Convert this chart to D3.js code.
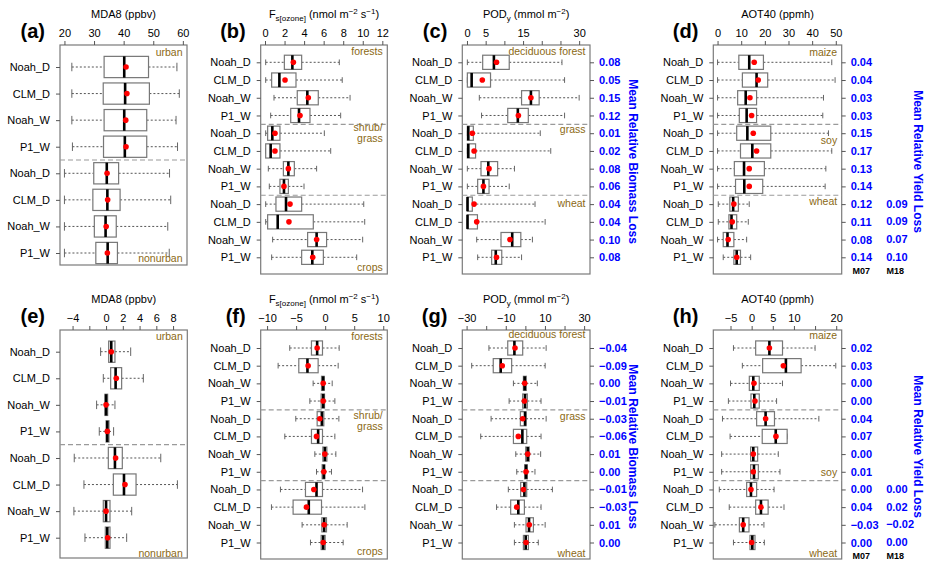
<!DOCTYPE html>
<html>
<head>
<meta charset="utf-8">
<script src="https://cdn.jsdelivr.net/npm/d3@7"></script>
<style>
  html, body { margin: 0; padding: 0; background: #fff; }
  svg { display: block; font-family: "Liberation Sans", Arial, Helvetica, sans-serif; }
</style>
</head>
<body>
<svg id="chart" width="926" height="563" viewBox="0 0 926 563"></svg>
<script>
// row labels (repeated per land-type group)
const rowLabels = ["Noah_D", "CLM_D", "Noah_W", "P1_W"];

// box stats per row: [whisker low, q1, median, q3, whisker high, mean]
const mda8Abs = [
  [22.5, 33.4, 40.2, 48.4, 58.0, 40.8], [22.5, 33.1, 40.5, 48.7, 58.8, 41.1],
  [22.5, 33.4, 40.2, 47.8, 57.7, 40.7], [22.7, 33.2, 40.4, 47.8, 58.2, 40.8],
  [20.0, 29.9, 34.3, 38.3, 55.5, 34.4], [20.0, 29.6, 34.5, 38.8, 55.9, 34.6],
  [20.0, 30.1, 33.9, 37.5, 54.9, 34.1], [20.0, 30.6, 34.6, 37.9, 55.4, 34.5]
];
const fluxAbs = [
  [0.07, 1.98, 2.8, 3.75, 7.6, 2.9], [0.07, 0.68, 1.47, 3.17, 7.9, 2.05],
  [0.92, 3.3, 4.33, 5.45, 8.7, 4.43], [0.58, 2.63, 3.48, 4.6, 7.74, 3.58],
  [0.07, 0.27, 0.75, 1.53, 6.07, 1.02], [0.07, 0.07, 0.58, 1.53, 6.72, 1.02],
  [0.34, 1.88, 2.39, 3.0, 5.28, 2.39], [0.44, 1.53, 1.94, 2.39, 3.99, 1.94],
  [0.07, 1.12, 2.15, 3.75, 10.1, 2.56], [0.07, 0.27, 1.3, 4.94, 10.2, 2.45],
  [0.78, 4.36, 5.28, 6.3, 9.99, 5.28], [0.68, 3.75, 4.84, 5.97, 9.38, 4.88]
];
const podAbs = [
  [0.1, 4.2, 7.2, 11.3, 25.4, 7.9], [0.1, 0.1, 1.25, 6.3, 26.1, 4.1],
  [3.3, 14.6, 17.1, 19.3, 30.0, 17.1], [3.9, 10.9, 13.6, 16.4, 26.1, 13.75],
  [0.1, 0.1, 0.36, 1.7, 19.6, 1.43], [0.1, 0.1, 0.36, 2.3, 22.4, 1.9],
  [0.1, 3.75, 5.7, 8.2, 12.7, 5.9], [0.1, 2.86, 4.4, 5.9, 11.3, 4.4],
  [0.1, 0.1, 0.15, 1.43, 18.2, 1.9], [0.1, 0.1, 0.15, 2.8, 20.9, 2.6],
  [2.6, 9.1, 12.1, 14.4, 17.5, 11.5], [2.86, 6.6, 7.7, 9.3, 14.6, 7.9]
];
const aotAbs = [
  [0, 9.0, 13.4, 19.4, 48.3, 15.5], [0, 10.5, 16.5, 21.2, 49.7, 17.2],
  [0, 8.5, 11.9, 16.5, 44.8, 13.7], [0, 9.2, 12.3, 16.5, 44.5, 14.4],
  [0, 8.1, 12.6, 22.5, 46.9, 15.1], [0, 9.7, 14.7, 22.5, 48.3, 16.5],
  [0, 7.1, 11.2, 19.8, 45.8, 13.4], [0, 7.6, 11.3, 19.1, 45.5, 13.4],
  [0.3, 5.2, 6.6, 8.8, 13.4, 6.9], [0.3, 4.8, 5.9, 8.1, 13.0, 6.2],
  [0, 2.4, 4.2, 6.9, 12.3, 4.5], [2.4, 6.9, 8.1, 9.7, 14.0, 8.1]
];
const mda8Diff = [
  [-0.65, 0.31, 0.62, 1.06, 2.94, 0.62], [-0.33, 0.55, 1.14, 1.86, 4.45, 1.22],
  [-1.13, -0.13, 0.0, 0.19, 1.06, 0.0], [-0.81, 0.0, 0.15, 0.35, 0.9, 0.15],
  [-3.8, 0.27, 1.06, 1.94, 6.53, 1.14], [-2.64, 0.87, 2.14, 3.58, 8.52, 2.26],
  [-3.84, -0.33, 0.0, 0.47, 3.06, 0.0], [-2.52, -0.09, 0.15, 0.47, 2.46, 0.19]
];
const fluxDiff = [
  [-6.1, -2.36, -1.38, -0.46, 2.41, -1.38], [-8.1, -4.54, -3.05, -1.21, 2.24, -2.93],
  [-2.07, -0.63, -0.34, -0.17, 1.21, -0.34], [-2.64, -0.69, -0.34, -0.11, 1.67, -0.34],
  [-5.06, -1.38, -0.57, -0.23, 2.36, -0.92], [-6.95, -2.36, -1.21, -0.46, 1.67, -1.49],
  [-1.78, -0.4, -0.06, 0.29, 1.84, -0.06], [-1.49, -0.52, -0.23, -0.06, 1.09, -0.23],
  [-7.7, -3.39, -1.49, -0.46, 6.44, -1.95], [-9.25, -5.52, -2.82, -0.63, 6.84, -3.22],
  [-3.97, -0.57, -0.17, 0.23, 3.79, -0.17], [-2.53, -0.69, -0.34, 0.0, 3.1, -0.34]
];
const podDiff = [
  [-18.6, -9.0, -5.6, -1.36, 10.6, -5.3], [-27.4, -16.4, -12.6, -7.0, 10.1, -11.8],
  [-6.1, -1.0, -0.34, 0.5, 6.1, -0.34], [-8.3, -1.36, -0.17, 1.0, 8.0, -0.5],
  [-17.5, -2.56, -0.17, 0.34, 10.6, -1.36], [-22.8, -6.1, -1.53, 0.68, 8.0, -3.6],
  [-4.9, 0.17, 1.19, 2.0, 7.8, 1.19], [-4.4, -0.34, 0.34, 1.0, 4.9, 0.34],
  [-8.7, -2.4, -0.5, 0.68, 13.8, -1.0], [-14.7, -7.5, -3.6, -0.5, 8.0, -4.4],
  [-5.6, 0.34, 1.87, 4.1, 10.1, 2.0], [-5.6, -1.0, 0.17, 1.53, 6.6, 0.34]
];
const aotDiff = [
  [-4.3, 0.95, 4.2, 7.3, 15.0, 4.2], [-2.2, 2.6, 8.1, 11.7, 19.9, 7.5],
  [-5.0, -0.55, 0.39, 1.8, 7.3, 0.55], [-5.5, -0.16, 0.63, 1.8, 5.9, 0.79],
  [-6.9, 1.18, 3.3, 5.4, 15.9, 3.3], [-5.1, 2.5, 5.7, 8.4, 8.4, 5.75],
  [-7.1, -0.24, 0.39, 1.42, 6.3, 0.39], [-7.1, -0.24, 0.55, 1.58, 6.7, 0.39],
  [-7.65, -1.18, -0.16, 1.18, 5.3, -0.16], [-5.3, 0.95, 2.2, 3.9, 7.65, 2.2],
  [-8.7, -2.9, -2.0, -0.63, 2.9, -2.0], [-4.3, -0.39, 0.16, 0.79, 3.0, 0.0]
];

// mean relative biomass / yield loss (right-hand blue columns)
const biomassLossAbs = [0.08, 0.05, 0.15, 0.12, 0.01, 0.02, 0.08, 0.06, 0.04, 0.04, 0.10, 0.08];
const yieldLossM07Abs = [0.04, 0.04, 0.03, 0.03, 0.15, 0.17, 0.13, 0.14, 0.12, 0.11, 0.08, 0.14];
const yieldLossM18Abs = [0.09, 0.09, 0.07, 0.10];
const biomassLossDiff = [-0.04, -0.09, 0.00, -0.01, -0.03, -0.06, 0.01, 0.00, -0.01, -0.03, 0.01, 0.00];
const yieldLossM07Diff = [0.02, 0.03, 0.00, 0.00, 0.04, 0.07, 0.00, 0.01, 0.00, 0.04, -0.03, 0.00];
const yieldLossM18Diff = [0.00, 0.02, -0.02, 0.00];

// x tick values and which of them get a label
const mda8AbsTicks = [20, 30, 40, 50, 60];
const fluxAbsTicks = [0, 2, 4, 6, 8, 10, 12];
const podAbsTicks = [0, 5, 10, 15, 20, 25, 30], podAbsLabels = [0, 5, 15, 30];
const aotAbsTicks = [0, 10, 20, 30, 40, 50];
const mda8DiffTicks = [-4, -2, 0, 2, 4, 6, 8], mda8DiffLabels = [-4, 0, 2, 4, 6, 8];
const fluxDiffTicks = [-10, -5, 0, 5, 10];
const podDiffTicks = [-30, -20, -10, 0, 10, 20, 30], podDiffLabels = [-30, -10, 10, 30];
const aotDiffTicks = [-5, 0, 5, 10, 15, 20], aotDiffLabels = [-5, 0, 5, 10, 20];

const svg = d3.select("#chart");
const fmt2 = d3.format(".2f");
const minus = d => String(d).replace("-", "\u2212");
const catColor = "#8B6914";
const blue = "#0000ff";

const panels = [
  { tag: "(a)", stats: mda8Abs, title: "mda8", x0: 60, x1: 187, y0: 45, y1: 265, r0: 67, r1: 253,
    domain: [18.5, 61.4], ticks: mda8AbsTicks, labels: mda8AbsTicks,
    cats: [["urban", 56], ["nonurban", 262]] },
  { tag: "(b)", stats: fluxAbs, title: "flux", x0: 260.7, x1: 387.3, y0: 45, y1: 274, r0: 62.3, r1: 257.3,
    domain: [-0.44, 12.51], ticks: fluxAbsTicks, labels: fluxAbsTicks,
    cats: [["forests", 54.5], ["shrub/", 131], ["grass", 141.5], ["crops", 270.5]] },
  { tag: "(c)", stats: podAbs, title: "pod", x0: 462.3, x1: 590, y0: 45, y1: 274, r0: 62.3, r1: 257.3,
    domain: [-1.25, 32.9], ticks: podAbsTicks, labels: podAbsLabels,
    cats: [["deciduous forest", 54.5], ["grass", 133], ["wheat", 207]],
    right: biomassLossAbs, rightTitle: "Mean Relative Biomass Loss" },
  { tag: "(d)", stats: aotAbs, title: "aot", x0: 713.3, x1: 841.7, y0: 45, y1: 274, r0: 62.3, r1: 257.3,
    domain: [-1.8, 52.5], ticks: aotAbsTicks, labels: aotAbsTicks,
    cats: [["maize", 55.5], ["soy", 144], ["wheat", 205]],
    right: yieldLossM07Abs, right2: yieldLossM18Abs, rightTitle: "Mean Relative Yield Loss" },
  { tag: "(e)", stats: mda8Diff, title: "mda8", x0: 60, x1: 187.3, y0: 330, y1: 558, r0: 351.7, r1: 537.7,
    domain: [-5.5, 9.7], ticks: mda8DiffTicks, labels: mda8DiffLabels,
    cats: [["urban", 339.5], ["nonurban", 556.5]] },
  { tag: "(f)", stats: fluxDiff, title: "flux", x0: 260.7, x1: 387.3, y0: 330, y1: 559, r0: 348, r1: 542.5,
    domain: [-11.1, 10.7], ticks: fluxDiffTicks, labels: fluxDiffTicks,
    cats: [["forests", 339.5], ["shrub/", 419], ["grass", 429.5], ["crops", 555]] },
  { tag: "(g)", stats: podDiff, title: "pod", x0: 462.3, x1: 590, y0: 330, y1: 559, r0: 348, r1: 542.5,
    domain: [-32.2, 33.0], ticks: podDiffTicks, labels: podDiffLabels,
    cats: [["deciduous forest", 338], ["grass", 420], ["wheat", 556.5]],
    right: biomassLossDiff, rightTitle: "Mean Relative Biomass Loss" },
  { tag: "(h)", stats: aotDiff, title: "aot", x0: 713.3, x1: 841.7, y0: 330, y1: 559, r0: 348, r1: 542.5,
    domain: [-9.07, 21.3], ticks: aotDiffTicks, labels: aotDiffLabels,
    cats: [["maize", 338.5], ["soy", 476], ["wheat", 556.5]],
    right: yieldLossM07Diff, right2: yieldLossM18Diff, rightTitle: "Mean Relative Yield Loss" }
];

function drawTitle(g, kind, cx, y) {
  const t = g.append("text").attr("x", cx).attr("y", y)
    .attr("text-anchor", "middle").style("font-size", "11px").attr("fill", "#000");
  if (kind === "mda8") t.text("MDA8 (ppbv)");
  if (kind === "aot") t.text("AOT40 (ppmh)");
  if (kind === "flux") {
    t.append("tspan").text("F");
    t.append("tspan").attr("dy", 3).style("font-size", "8px").text("s[ozone]");
    t.append("tspan").attr("dy", -3).text(" (nmol m");
    t.append("tspan").attr("dy", -4).style("font-size", "8px").text("\u22122");
    t.append("tspan").attr("dy", 4).text(" s");
    t.append("tspan").attr("dy", -4).style("font-size", "8px").text("\u22121");
    t.append("tspan").attr("dy", 4).text(")");
  }
  if (kind === "pod") {
    t.append("tspan").text("POD");
    t.append("tspan").attr("dy", 3).style("font-size", "8px").text("y");
    t.append("tspan").attr("dy", -3).text(" (mmol m");
    t.append("tspan").attr("dy", -4).style("font-size", "8px").text("\u22122");
    t.append("tspan").attr("dy", 4).text(")");
  }
}

panels.forEach(p => {
  const g = svg.append("g");
  const n = p.stats.length;
  const x = d3.scaleLinear().domain(p.domain).range([p.x0, p.x1]);
  const y = d3.scaleLinear().domain([0, n - 1]).range([p.r0, p.r1]);
  const step = (p.r1 - p.r0) / (n - 1);
  const bh = step * 0.8;
  const cap = bh * 0.4;

  // frame
  g.append("rect")
    .attr("x", p.x0).attr("y", p.y0)
    .attr("width", p.x1 - p.x0).attr("height", p.y1 - p.y0)
    .attr("fill", "#fff").attr("stroke", "#7a7a7a").attr("stroke-width", 1.2);

  // group separators
  const seps = n === 8 ? [3.5] : [3.5, 7.5];
  seps.forEach(s => {
    g.append("line")
      .attr("x1", p.x0).attr("x2", p.x1).attr("y1", y(s)).attr("y2", y(s))
      .attr("stroke", "#9a9a9a").attr("stroke-width", 1.2).attr("stroke-dasharray", "5,3");
  });

  // category labels
  p.cats.forEach(([txt, yy]) => {
    g.append("text").attr("x", p.x1 - 4.5).attr("y", yy)
      .attr("text-anchor", "end").attr("fill", catColor)
      .style("font-size", "10.5px").text(txt);
  });

  // boxes
  const rows = g.selectAll(".row").data(p.stats).enter().append("g")
    .attr("transform", (d, i) => `translate(0,${y(i)})`);

  rows.append("line")
    .attr("x1", d => x(d[0])).attr("x2", d => x(d[1]))
    .attr("stroke", "#555").attr("stroke-width", 1).attr("stroke-dasharray", "2,2");
  rows.append("line")
    .attr("x1", d => x(d[3])).attr("x2", d => x(d[4]))
    .attr("stroke", "#555").attr("stroke-width", 1).attr("stroke-dasharray", "2,2");
  rows.append("line")
    .attr("x1", d => x(d[0])).attr("x2", d => x(d[0]))
    .attr("y1", -cap / 2).attr("y2", cap / 2).attr("stroke", "#666");
  rows.append("line")
    .attr("x1", d => x(d[4])).attr("x2", d => x(d[4]))
    .attr("y1", -cap / 2).attr("y2", cap / 2).attr("stroke", "#666");
  rows.append("rect")
    .attr("x", d => x(d[1])).attr("y", -bh / 2)
    .attr("width", d => Math.max(0, x(d[3]) - x(d[1]))).attr("height", bh)
    .attr("fill", "#fff").attr("stroke", "#777").attr("stroke-width", 1.2);
  rows.append("line")
    .attr("x1", d => x(d[2])).attr("x2", d => x(d[2]))
    .attr("y1", -bh / 2).attr("y2", bh / 2)
    .attr("stroke", "#000").attr("stroke-width", 2.6);
  rows.append("circle")
    .attr("cx", d => x(d[5])).attr("r", 2.8).attr("fill", "#ff0000");

  // top axis
  const top = g.append("g").attr("transform", `translate(0,${p.y0})`)
    .call(d3.axisTop(x).tickValues(p.ticks).tickSize(4).tickPadding(4.5)
      .tickFormat(d => p.labels.includes(d) ? minus(d) : ""));
  top.select(".domain").remove();
  top.selectAll("line").attr("stroke", "#555");
  top.selectAll("text").style("font-size", "11px").attr("fill", "#000").attr("font-family", null);
  drawTitle(g, p.title, (p.x0 + p.x1) / 2, p.y0 - 27);

  // left axis (row labels)
  const left = g.append("g").attr("transform", `translate(${p.x0},0)`)
    .call(d3.axisLeft(y).tickValues(d3.range(n)).tickSize(4).tickPadding(6)
      .tickFormat(i => rowLabels[i % 4]));
  left.select(".domain").remove();
  left.selectAll("line").attr("stroke", "#555");
  left.selectAll("text").style("font-size", "11px").attr("fill", "#000").attr("font-family", null);

  // panel tag
  g.append("text").attr("x", p.x0 - 15).attr("y", p.y0 - 7)
    .attr("text-anchor", "end").style("font-size", "20px").style("font-weight", "bold")
    .text(p.tag);

  // right blue columns
  if (p.right) {
    const right = g.append("g").attr("transform", `translate(${p.x1},0)`)
      .call(d3.axisRight(y).tickValues(d3.range(n)).tickSize(4).tickPadding(5)
        .tickFormat(i => fmt2(p.right[i])));
    right.select(".domain").remove();
    right.selectAll("line").attr("stroke", "#555");
    right.selectAll("text").style("font-size", "11px").style("font-weight", "bold")
      .attr("fill", blue).attr("font-family", null);
  }
  if (p.right2) {
    g.selectAll(".m18").data(p.right2).enter().append("text")
      .attr("x", p.x1 + 44.5).attr("y", (d, i) => y(i + 8)).attr("dy", "0.32em")
      .style("font-size", "11px").style("font-weight", "bold").attr("fill", blue)
      .text(d => fmt2(d));
    [["M07", p.x1 + 19.5], ["M18", p.x1 + 53.5]].forEach(([txt, xx]) => {
      g.append("text").attr("x", xx).attr("y", p.y1 - 0.5).attr("text-anchor", "middle")
        .style("font-size", "9px").style("font-weight", "bold").text(txt);
    });
  }
  if (p.rightTitle) {
    const tx = p.right2 ? 918 : 633;
    const ty = (p.y0 + p.y1) / 2 + 2;
    g.append("text").attr("transform", `translate(${tx},${ty}) rotate(90)`)
      .attr("text-anchor", "middle").attr("dy", "0.35em")
      .style("font-size", "12px").style("font-weight", "bold").attr("fill", blue)
      .text(p.rightTitle);
  }
});
</script>
</body>
</html>
